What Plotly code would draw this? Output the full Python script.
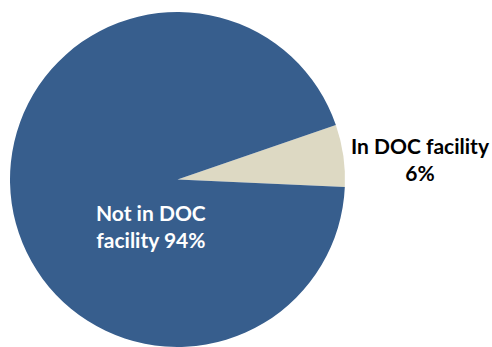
import plotly.graph_objects as go

labels = ["In DOC facility", "Not in DOC facility"]
values = [6, 94]
colors = ["#DDD9C3", "#375E8D"]

W, H = 492, 347
ML, MT = 10, 12
pw, ph = W - ML, H - MT
diam = ph

fig = go.Figure(go.Pie(
    labels=labels, values=values, sort=False, direction="clockwise",
    rotation=71, marker=dict(colors=colors, line=dict(width=0)),
    textinfo="none", hoverinfo="label+percent", showlegend=False,
    domain=dict(x=[0, diam / pw], y=[0, 1]),
))

def px(x):
    return (x - ML) / pw

def py(y):
    return 1 - (y - MT) / ph

font = dict(family="Lato, Carlito, Calibri, sans-serif", size=21)
fig.add_annotation(
    x=px(420), y=py(159), xref="paper", yref="paper", showarrow=False,
    xanchor="center", yanchor="middle",
    text=f"<b>{labels[0]}<br>{values[0]}%</b>",
    font=dict(color="#000000", **font), align="center",
)
fig.add_annotation(
    x=px(151), y=py(226), xref="paper", yref="paper", showarrow=False,
    xanchor="center", yanchor="middle",
    text=f"<b>Not in DOC<br>facility {values[1]}%</b>",
    font=dict(color="#FFFFFF", **font), align="center",
)

fig.update_layout(
    width=W, height=H, autosize=False,
    margin=dict(l=ML, r=0, t=MT, b=0),
    paper_bgcolor="white", plot_bgcolor="white",
)
fig.write_html("out.html")
